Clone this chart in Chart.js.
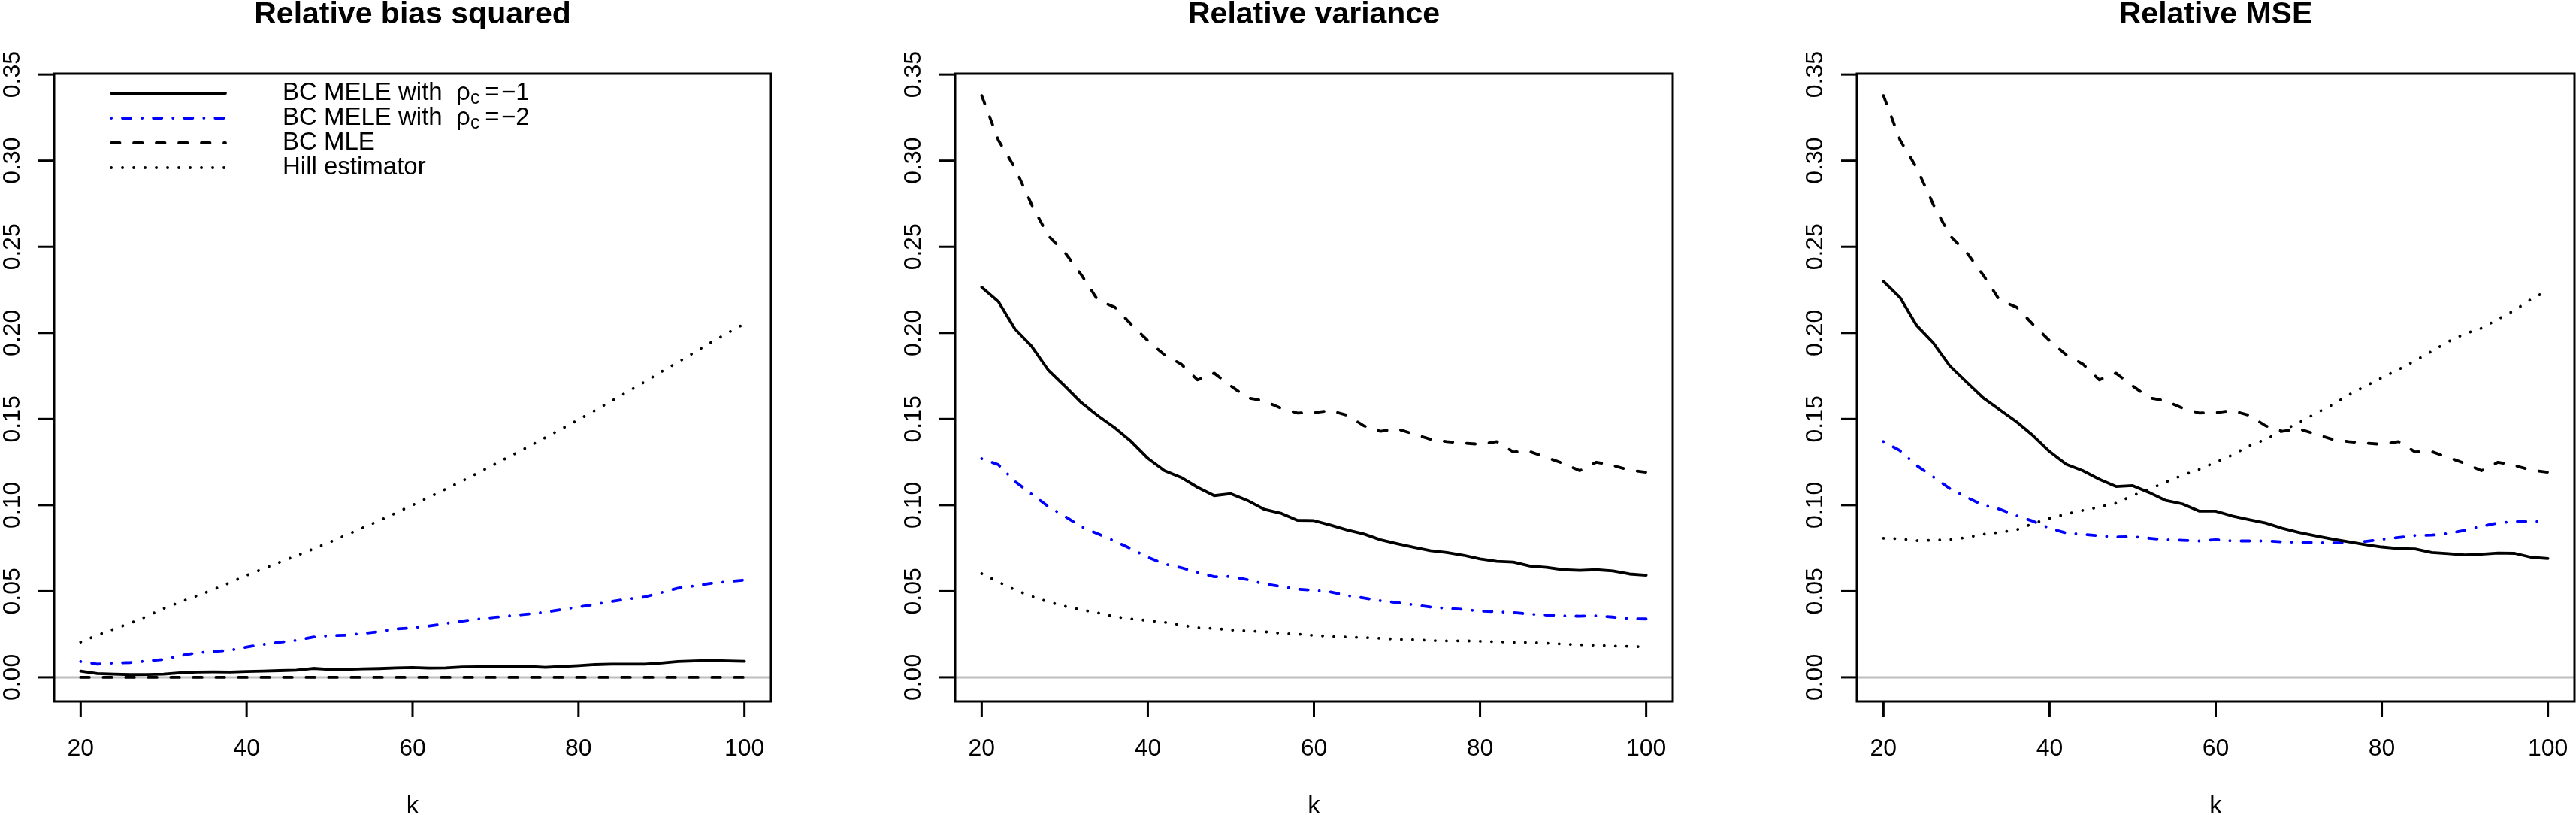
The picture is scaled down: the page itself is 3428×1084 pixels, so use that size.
<!DOCTYPE html>
<html>
<head>
<meta charset="utf-8">
<script src="https://cdn.jsdelivr.net/npm/chart.js@4.4.1/dist/chart.umd.min.js"></script>
<style>
  body { margin: 0; background: #fff; }
  #wrap { position: relative; width: 3428px; height: 1084px; overflow: hidden; }
  canvas { position: absolute; top: 0; }
</style>
</head>
<body>
<div id="wrap">
  <canvas id="c1" width="1143" height="1084" style="left:0px"></canvas>
  <canvas id="c2" width="1143" height="1084" style="left:1143px"></canvas>
  <canvas id="c3" width="1142" height="1084" style="left:2286px"></canvas>
</div>
<script>
// k values on the x axis
var kValues = [20,22,24,26,28,30,32,34,36,38,40,42,44,46,48,50,52,54,56,58,60,
               62,64,66,68,70,72,74,76,78,80,82,84,86,88,90,92,94,96,98,100];

var xTicks = [20, 40, 60, 80, 100];
var yTicks = [0, 0.05, 0.10, 0.15, 0.20, 0.25, 0.30, 0.35];
var yTickLabels = ["0.00","0.05","0.10","0.15","0.20","0.25","0.30","0.35"];

var panelTitles = ["Relative bias squared", "Relative variance", "Relative MSE"];
var xTitle = "k";
var legendLabels = ["BC MELE with", "BC MELE with", "BC MLE", "Hill estimator"];
var legendRho = ["\u22121", "\u22122", null, null];

// relative bias squared
var biasMele1 = [.0036,.0022,.0019,.0016,.0017,.0019,.0026,.0031,.0032,.0031,.0034,.0036,.0039,.0042,.0052,.0046,.0046,.0049,.0051,.0055,.0057,
                 .0054,.0055,.0060,.0061,.0061,.0061,.0063,.0058,.0063,.0068,.0074,.0077,.0077,.0077,.0083,.0092,.0095,.0098,.0095,.0093];
var biasMele2 = [.0092,.0077,.0083,.0086,.0095,.0104,.0126,.0143,.0150,.0157,.0176,.0191,.0204,.0215,.0234,.0242,.0245,.0255,.0266,.0281,.0288,
                 .0298,.0313,.0327,.0339,.0349,.0358,.0368,.0378,.0394,.0409,.0423,.0441,.0455,.0467,.0492,.0518,.0531,.0546,.0555,.0565];
var biasMle   = [0,0,0,0,0,0,0,0,0,0,0,0,0,0,0,0,0,0,0,0,0,
                 0,0,0,0,0,0,0,0,0,0,0,0,0,0,0,0,0,0,0,0];
var biasHill  = [.0205,.0245,.0280,.0315,.0355,.0400,.0437,.0473,.0510,.0550,.0592,.0630,.0668,.0706,.0745,.0785,.0826,.0868,.0910,.0955,.1000,
                 .1046,.1093,.1140,.1190,.1240,.1290,.1340,.1392,.1444,.1496,.1550,.1605,.1660,.1716,.1775,.1830,.1888,.1945,.2000,.2053];

// relative variance
var varMele1 = [.2265,.2182,.2023,.1923,.1785,.1692,.1595,.1519,.1450,.1369,.1272,.1200,.1161,.1103,.1055,.1066,.1027,.0976,.0953,.0912,.0910,
                .0884,.0856,.0833,.0799,.0776,.0755,.0736,.0725,.0709,.0688,.0674,.0669,.0646,.0639,.0625,.0621,.0625,.0618,.0600,.0593];
var varMele2 = [.1270,.1235,.1138,.1064,.0993,.0935,.0875,.0833,.0792,.0746,.0697,.0658,.0637,.0609,.0584,.0586,.0567,.0542,.0528,.0512,.0505,
                .0496,.0475,.0461,.0445,.0434,.0422,.0408,.0401,.0394,.0385,.0381,.0376,.0367,.0362,.0357,.0355,.0357,.0350,.0341,.0339];
var varMle   = [.3378,.3120,.2958,.2746,.2565,.2468,.2337,.2189,.2150,.2050,.1955,.1873,.1819,.1727,.1766,.1692,.1623,.1605,.1563,.1535,.1537,
                .1549,.1522,.1461,.1429,.1443,.1413,.1383,.1369,.1360,.1353,.1369,.1309,.1311,.1277,.1242,.1200,.1249,.1230,.1203,.1191];
var varHill  = [.0602,.0554,.0508,.0471,.0438,.0413,.0392,.0374,.0353,.0339,.0330,.0320,.0304,.0288,.0284,.0275,.0270,.0265,.0256,.0251,.0244,
                .0238,.0234,.0231,.0227,.0221,.0219,.0214,.0212,.0212,.0210,.0207,.0203,.0203,.0198,.0193,.0189,.0186,.0182,.0180,.0177];

// relative MSE
var mseMele1 = [.2300,.2205,.2043,.1942,.1808,.1715,.1623,.1554,.1485,.1404,.1311,.1237,.1200,.1150,.1108,.1113,.1073,.1027,.1007,.0965,.0965,
                .0937,.0916,.0896,.0866,.0842,.0822,.0803,.0787,.0771,.0757,.0748,.0746,.0725,.0718,.0711,.0715,.0722,.0720,.0697,.0690];
var mseMele2 = [.1369,.1316,.1230,.1164,.1096,.1046,.1000,.0976,.0939,.0907,.0866,.0838,.0831,.0822,.0815,.0817,.0808,.0799,.0796,.0792,.0799,
                .0792,.0792,.0792,.0787,.0783,.0783,.0780,.0783,.0789,.0801,.0812,.0824,.0826,.0835,.0854,.0877,.0896,.0905,.0905,.0905];
var mseMle   = [.3378,.3120,.2958,.2746,.2565,.2468,.2337,.2189,.2150,.2050,.1955,.1873,.1819,.1727,.1766,.1692,.1623,.1605,.1563,.1535,.1537,
                .1549,.1522,.1461,.1429,.1443,.1413,.1383,.1369,.1360,.1353,.1369,.1309,.1311,.1277,.1242,.1200,.1249,.1230,.1203,.1191];
var mseHill  = [.0808,.0805,.0794,.0796,.0800,.0812,.0831,.0842,.0856,.0893,.0923,.0948,.0969,.0990,.1011,.1055,.1092,.1134,.1173,.1207,.1249,
                .1291,.1344,.1381,.1431,.1478,.1531,.1581,.1639,.1690,.1739,.1787,.1838,.1893,.1949,.1995,.2027,.2080,.2131,.2196,.2247];

// line styles (R lty 1, 4, 2, 3)
var lw = 3.8;
var styles = [
  { color: "#000000", dash: [] },
  { color: "#0000FF", dash: [0.1, 14.9, 11.2, 14.9] },
  { color: "#000000", dash: [11.5, 18.5] },
  { color: "#000000", dash: [0.1, 14.9] }
];

var FONT = '"Liberation Sans", Arial, Helvetica, sans-serif';

function pts(arr) {
  return arr.map(function (v, i) { return { x: kValues[i], y: v }; });
}

function setLine(ctx, st) {
  ctx.strokeStyle = st.color;
  ctx.lineWidth = lw;
  ctx.lineCap = "round";
  ctx.lineJoin = "round";
  ctx.setLineDash(st.dash);
}

var rAxes = {
  id: "rAxes",
  beforeDatasetsDraw: function (chart) {
    var ctx = chart.ctx, a = chart.chartArea;
    var y0 = chart.scales.y.getPixelForValue(0);
    ctx.save();
    ctx.strokeStyle = "#BEBEBE";
    ctx.lineWidth = 3;
    ctx.beginPath();
    ctx.moveTo(a.left, y0);
    ctx.lineTo(a.right, y0);
    ctx.stroke();
    ctx.restore();
  },
  afterDraw: function (chart, args, opts) {
    var ctx = chart.ctx, a = chart.chartArea;
    var xs = chart.scales.x, ys = chart.scales.y;
    ctx.save();
    ctx.setLineDash([]);
    ctx.strokeStyle = "#000";
    ctx.fillStyle = "#000";
    ctx.lineWidth = 3;
    ctx.lineCap = "butt";
    ctx.strokeRect(a.left, a.top, a.right - a.left, a.bottom - a.top);

    // x axis
    ctx.font = "32px " + FONT;
    ctx.textAlign = "center";
    ctx.textBaseline = "alphabetic";
    xTicks.forEach(function (t) {
      var px = xs.getPixelForValue(t);
      ctx.beginPath();
      ctx.moveTo(px, a.bottom);
      ctx.lineTo(px, a.bottom + 21);
      ctx.stroke();
      ctx.fillText(String(t), px, 1005);
    });

    // y axis
    yTicks.forEach(function (t, i) {
      var py = ys.getPixelForValue(t);
      ctx.beginPath();
      ctx.moveTo(a.left - 21, py);
      ctx.lineTo(a.left, py);
      ctx.stroke();
      ctx.save();
      ctx.translate(a.left - 46, py);
      ctx.rotate(-Math.PI / 2);
      ctx.fillText(yTickLabels[i], 0, 0);
      ctx.restore();
    });

    var cx = (a.left + a.right) / 2;
    ctx.font = "bold 41px " + FONT;
    ctx.fillText(opts.title, cx, 31);
    ctx.font = "33px " + FONT;
    ctx.fillText(xTitle, cx, 1082);

    if (opts.legend) {
      var rows = [124, 157, 190, 223];
      rows.forEach(function (ry, i) {
        ctx.save();
        setLine(ctx, styles[i]);
        ctx.beginPath();
        ctx.moveTo(148, ry);
        ctx.lineTo(300, ry);
        ctx.stroke();
        ctx.restore();

        var base = ry + 9;
        ctx.textAlign = "left";
        ctx.font = "33px " + FONT;
        ctx.fillText(legendLabels[i], 376, base);
        if (legendRho[i]) {
          ctx.fillText("\u03C1", 607, base);
          ctx.font = "25px " + FONT;
          ctx.fillText("c", 626, base + 5);
          ctx.font = "33px " + FONT;
          ctx.textAlign = "center";
          ctx.fillText("=", 655, base);
          ctx.textAlign = "left";
          ctx.fillText(legendRho[i], 667, base);
        }
      });
    }
    ctx.restore();
  }
};

function makePanel(id, title, series, pad, legend) {
  new Chart(document.getElementById(id), {
    type: "line",
    data: {
      datasets: series.map(function (s, i) {
        return {
          data: pts(s),
          borderColor: styles[i].color,
          borderWidth: lw,
          borderDash: styles[i].dash,
          borderCapStyle: "round",
          borderJoinStyle: "round",
          pointRadius: 0,
          fill: false,
          tension: 0
        };
      })
    },
    options: {
      responsive: false,
      animation: false,
      devicePixelRatio: 1,
      layout: { padding: pad },
      plugins: {
        legend: { display: false },
        tooltip: { enabled: false },
        rAxes: { title: title, legend: legend }
      },
      scales: {
        x: { type: "linear", min: 16.8, max: 103.2, display: false },
        y: { type: "linear", min: -0.014, max: 0.3505, display: false }
      }
    },
    plugins: [rAxes]
  });
}

makePanel("c1", panelTitles[0], [biasMele1, biasMele2, biasMle, biasHill],
          { left: 72, right: 117, top: 98, bottom: 151 }, true);
makePanel("c2", panelTitles[1], [varMele1, varMele2, varMle, varHill],
          { left: 128, right: 60, top: 98, bottom: 151 }, false);
makePanel("c3", panelTitles[2], [mseMele1, mseMele2, mseMle, mseHill],
          { left: 185, right: 2, top: 98, bottom: 151 }, false);
</script>
</body>
</html>
